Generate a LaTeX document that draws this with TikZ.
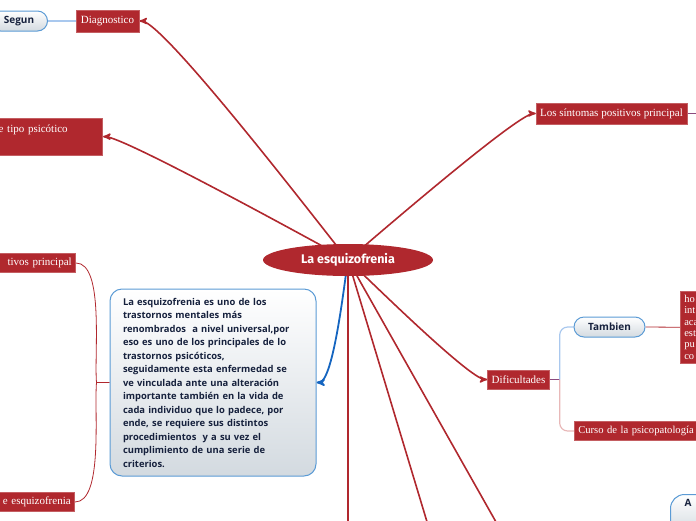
\documentclass[tikz,border=0pt]{standalone}
\usepackage{fontspec}
\setmainfont{Liberation Serif}
\newfontfamily\sansfont{Open Sans}
\newfontfamily\titlefont{Fira Sans}
\usetikzlibrary{arrows, shapes.geometric, backgrounds, calc}

\definecolor{mapred}{HTML}{B0282E}
\definecolor{mapblue}{HTML}{5B9BD5}
\definecolor{linkblue}{HTML}{1565C0}
\definecolor{navy}{HTML}{16213D}
\definecolor{pillgray}{HTML}{D3DAE0}
\definecolor{lightlink}{HTML}{A9C8EE}
\definecolor{pinklink}{HTML}{E8B8B8}
\definecolor{plumlink}{HTML}{8B4A7E}

\tikzset{
  topic/.style={rectangle, fill=mapred, draw=mapred!75!white, line width=0.6pt, text=white,
    font=\fontsize{11}{13}\selectfont, inner xsep=4pt, inner ysep=3pt, minimum height=19pt},
  pill/.style={rectangle, rounded corners=10pt, draw=mapblue, line width=1pt, top color=white,
    bottom color=pillgray, text=navy, font=\sansfont\bfseries\fontsize{10}{12}\selectfont, minimum height=20pt},
  link/.style={draw=mapred, line width=1.6pt, >=stealth'},
  twig/.style={draw=mapred, line width=0.8pt}
}

\begin{document}
\begin{tikzpicture}[x=1pt, y=1pt]
    \useasboundingbox (0,0) rectangle (696,-520);

    %define the topics
    \node[ellipse, fill=mapred, text=white, minimum width=170pt, minimum height=32pt,
          font=\titlefont\bfseries\fontsize{12.5}{14}\selectfont] (root) at (348,-260) {La esquizofrenia};
    \node[topic, minimum height=22pt, inner xsep=5pt] (diag) at (107.5,-21) {Diagnostico};
    \node[pill, anchor=east, minimum width=57pt] (segun) at (48,-21) {Segun};
    \node[topic, anchor=north east, text width=100pt, align=left, text depth=15pt, inner ysep=7pt] (tipo) at (103,-118) {e tipo psicótico};
    \node[topic, minimum height=21pt] (sint) at (611.5,-113.5) {Los síntomas positivos principal};
    \node[topic, anchor=east, text width=90pt, align=right] (tivos) at (76,-263) {tivos principal};
    \node[topic, anchor=east, text width=90pt, align=right] (esq) at (75,-502) {e esquizofrenia};
    \node[pill, rounded corners=12pt, minimum width=206pt, minimum height=187pt, text width=180pt, align=left,
          font=\sansfont\bfseries\fontsize{9.4}{13.5}\selectfont] (desc) at (213,-382.5)
          {La esquizofrenia es uno de los\\
           trastornos mentales más\\
           renombrados\ \ a nivel universal,por\\
           eso es uno de los principales de lo\\
           trastornos psicóticos,\\
           seguidamente esta enfermedad se\\
           ve vinculada ante una alteración\\
           importante también en la vida de\\
           cada individuo que lo padece, por\\
           ende, se requiere sus distintos\\
           procedimientos\ \ y a su vez el\\
           cumplimiento de una serie de\\
           criterios.};
    \node[topic] (dif) at (518.5,-379.5) {Dificultades};
    \node[pill, minimum width=71pt] (tamb) at (609.5,-327) {Tambien};
    \node[topic, anchor=north west, text width=40pt, align=left, minimum height=70pt, inner ysep=4pt,
          font=\fontsize{10.5}{11.3}\selectfont] (hosp) at (680,-291) {ho\\int\\aca\\est\\pu\\co};
    \node[topic, anchor=west, text width=130pt, align=left, font=\fontsize{10.6}{13}\selectfont] (curso) at (574,-431) {Curso de la psicopatología};
    \node[pill, anchor=north west, rounded corners=14pt, text width=40pt, align=left, inner xsep=14pt,
          inner ysep=5pt, text depth=22pt] (apill) at (670,-494) {A};

    \coordinate (sr) at (705,-113.5);
    \coordinate (b1) at (348,-545);
    \coordinate (b2) at (434,-545);
    \coordinate (b3) at (509,-545);
    \coordinate (lj) at ($(desc.west)+(-13,0)$);
    \coordinate (dj) at ($(dif.east)+(10,0)$);

    %define the links
    \begin{scope}[on background layer]
      \draw[link, ->] (root.center) to[out=130, in=0, looseness=0.2] (diag.east);
      \draw[link, ->] (root.center) to[out=152, in=0, looseness=0.2] (tipo.east);
      \draw[link, ->] (root.center) to[out=40, in=180, looseness=0.2] (sint.west);
      \draw[link, ->] (root.center) to[out=-42, in=180, looseness=0.25] (dif.west);
      \draw[link] (root.center) -- (b1);
      \draw[link] (root.center) -- (b2);
      \draw[link] (root.center) -- (b3);
      \draw[link, draw=linkblue, line width=1.8pt, ->] (root.center) to[out=-100, in=0, looseness=0.35] (desc.east);
      \draw[lightlink, line width=1.2pt] (segun.east) -- (diag.west);
      \draw[plumlink, line width=0.8pt] (sint.east) -- (sr);
      \draw[twig] (desc.west) -- (lj) to[out=95, in=0, looseness=0.6] (tivos.east);
      \draw[twig] (lj) to[out=-95, in=0, looseness=0.6] (esq.east);
      \draw[plumlink, line width=0.8pt] (dif.east) -- (dj);
      \draw[lightlink, line width=1.2pt, rounded corners=8pt] (dj) |- (tamb.west);
      \draw[pinklink, line width=1.2pt, rounded corners=8pt] (dj) |- (curso.west);
      \draw[twig] (tamb.east) -- (hosp.west);
    \end{scope}
\end{tikzpicture}
\end{document}
